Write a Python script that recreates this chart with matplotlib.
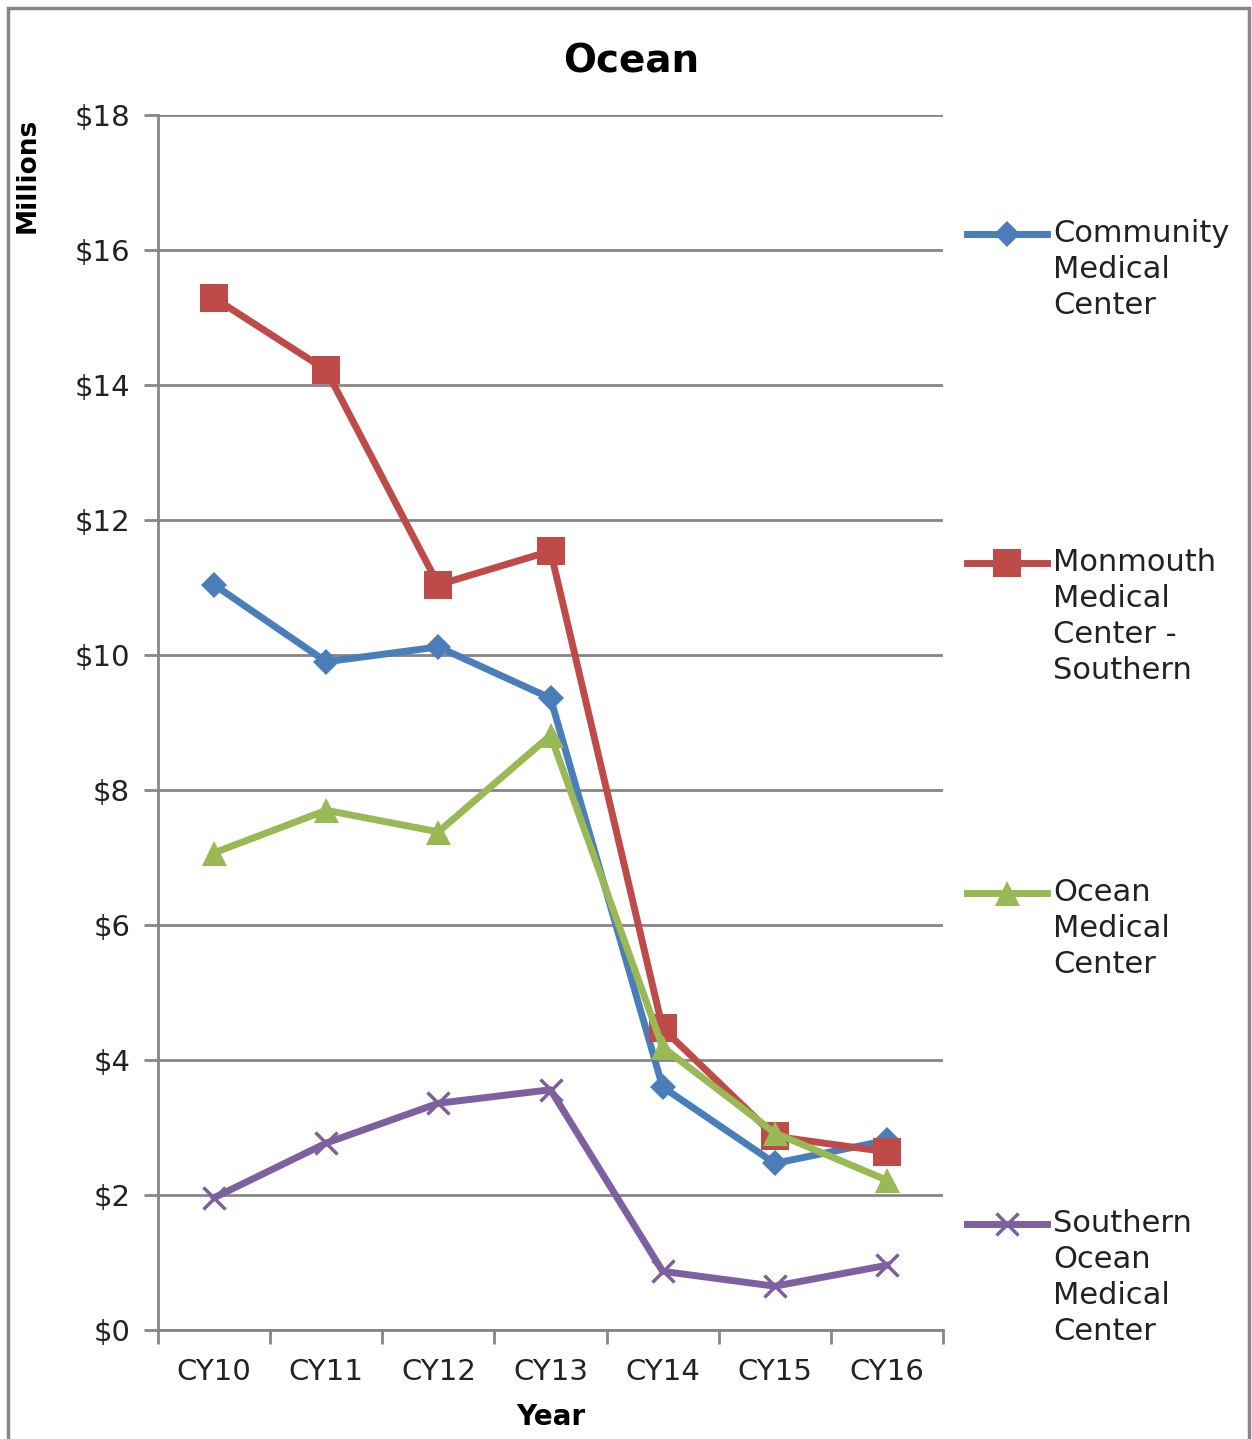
import matplotlib.pyplot as plt
from matplotlib.lines import Line2D
from matplotlib.patches import Rectangle
from matplotlib.ticker import FixedLocator, NullFormatter

years = ['CY10', 'CY11', 'CY12', 'CY13', 'CY14', 'CY15', 'CY16']
community = [11.04, 9.90, 10.12, 9.36, 3.60, 2.47, 2.81]
monmouth = [15.29, 14.22, 11.04, 11.54, 4.47, 2.87, 2.64]
ocean = [7.07, 7.70, 7.38, 8.81, 4.19, 2.92, 2.22]
southern = [1.96, 2.77, 3.36, 3.56, 0.87, 0.65, 0.96]

labels = ['Community\nMedical\nCenter',
          'Monmouth\nMedical\nCenter -\nSouthern',
          'Ocean\nMedical\nCenter',
          'Southern\nOcean\nMedical\nCenter']

# Excel 2007 palette
colors = ['#4A7EBB', '#BE4B48', '#98B954', '#7D60A0']
markers = ['D', 's', '^', 'x']
msizes = [13, 20, 18, 16]

plt.rcParams['font.family'] = ['DejaVu Sans']

fig = plt.figure(figsize=(12.52, 14.39), dpi=100)
ax = fig.add_axes([0.1262, 0.0757, 0.6270, 0.8444])

x = list(range(len(years)))
series = [community, monmouth, ocean, southern]
for vals, c, m, ms in zip(series, colors, markers, msizes):
    ax.plot(x, vals, color=c, lw=5, marker=m, markersize=ms,
            markeredgewidth=2.5 if m == 'x' else 0, markeredgecolor=c,
            solid_joinstyle='round', zorder=3)

ax.set_xlim(-0.5, len(years) - 0.5)
ax.set_ylim(0, 18)
ax.set_yticks(range(0, 19, 2))
ax.set_yticklabels([f'${v}' for v in range(0, 19, 2)], fontsize=21, color='#222222')
ax.set_xticks(x)
ax.set_xticklabels(years, fontsize=21, color='#222222')
ax.tick_params(axis='x', length=0, pad=20)
ax.xaxis.set_minor_locator(FixedLocator([i - 0.5 for i in range(len(years) + 1)]))
ax.xaxis.set_minor_formatter(NullFormatter())
ax.tick_params(axis='x', which='minor', length=10, width=2, color='#868686', direction='out')
ax.tick_params(axis='y', length=10, width=2, color='#868686', direction='out', pad=10)

ax.grid(axis='y', color='#868686', lw=2)
ax.set_axisbelow(True)
for s in ['top', 'right']:
    ax.spines[s].set_visible(False)
for s in ['left', 'bottom']:
    ax.spines[s].set_color('#868686')
    ax.spines[s].set_linewidth(2)

fig.text(0.504, 0.957, 'Ocean', ha='center', va='center', fontsize=28, fontweight='bold')
fig.text(0.022, 0.878, 'Millions', ha='center', va='center', rotation=90,
         fontsize=19, fontweight='bold')
fig.text(0.44, 0.015, 'Year', ha='center', va='center', fontsize=20, fontweight='bold')

# legend placed by hand, one handle per series
leg_y = [234, 563, 893, 1224]
for lab, c, m, ms, yy in zip(labels, colors, markers, msizes, leg_y):
    yf = 1 - yy / 1439
    fig.add_artist(Line2D([967 / 1252, 1047 / 1252], [yf, yf], color=c, lw=5))
    fig.add_artist(Line2D([1007 / 1252], [yf], color=c, marker=m, markersize=ms,
                          markeredgewidth=2.5 if m == 'x' else 0, markeredgecolor=c))
    fig.text(1053 / 1252, yf + 0.0105, lab, ha='left', va='top', fontsize=22,
             linespacing=1.3, color='#222222')

fig.add_artist(Rectangle((8 / 1252, -0.01), 1241 / 1252, 1 - 8 / 1439 + 0.01,
                         fill=False, edgecolor='#868686', lw=2.5,
                         transform=fig.transFigure))

fig.savefig('out.png', dpi=100)
